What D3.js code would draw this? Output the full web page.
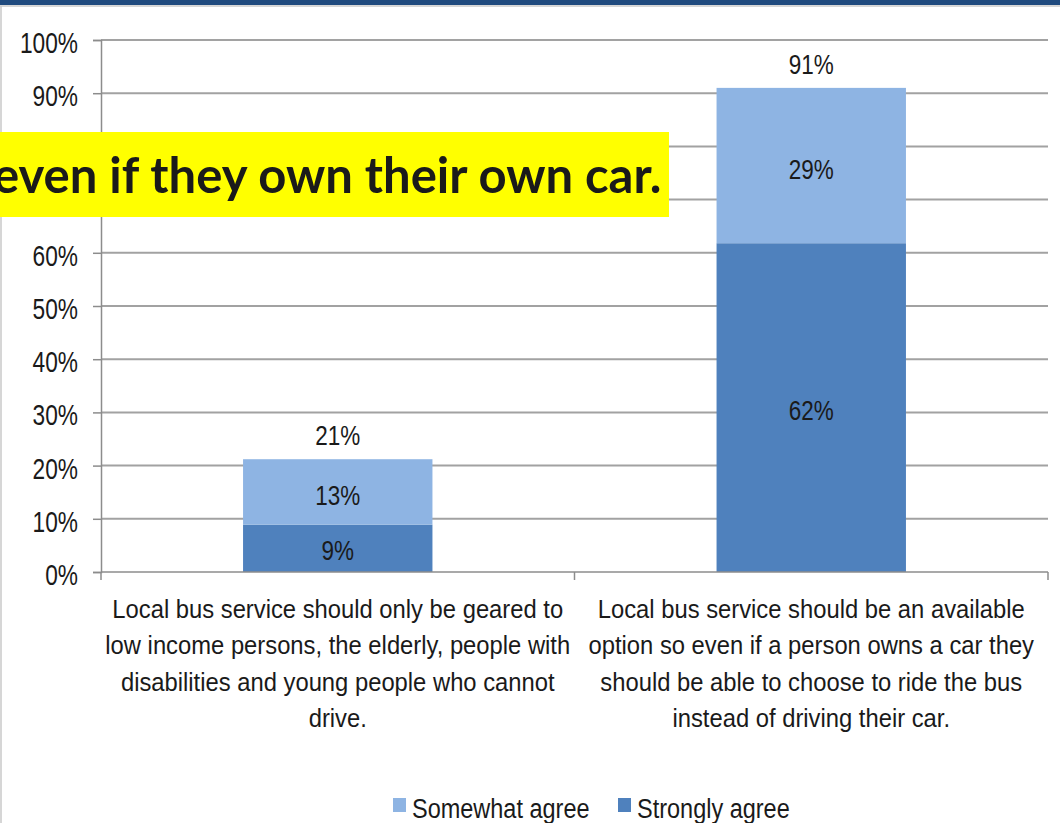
<!DOCTYPE html>
<html>
<head>
<meta charset="utf-8">
<script src="https://cdn.jsdelivr.net/npm/d3@7"></script>
<style>
  body { margin: 0; background: #fff; }
  svg { display: block; }
  text { font-family: "Liberation Sans", Arial, sans-serif; fill: #1a1a1a; }
</style>
</head>
<body>
<script>
// DATA
const categories = [
  "Local bus service should only be geared to low income persons, the elderly, people with disabilities and young people who cannot drive.",
  "Local bus service should be an available option so even if a person owns a car they should be able to choose to ride the bus instead of driving their car."
];
const categoryLines = [
  ["Local bus service should only be geared to", "low income persons, the elderly, people with", "disabilities and young people who cannot", "drive."],
  ["Local bus service should be an available", "option so even if a person owns a car they", "should be able to choose to ride the bus", "instead of driving their car."]
];
const strongly = [8.9, 61.8];
const somewhat = [12.3, 29.2];
const stronglyLabels = [9, 62];
const somewhatLabels = [13, 29];
const totals = [21, 91];
const seriesNames = ["Somewhat agree", "Strongly agree"];
const yTicks = [0, 10, 20, 30, 40, 50, 60, 70, 80, 90, 100];
const banner = "even if they own their own car.";

// CONSTANTS
const WIDTH = 1060, HEIGHT = 823;
const LEFT = 101, RIGHT = 1048, TOP = 40, BOTTOM = 572;
const COLORS = { "Strongly agree": "#4f81bd", "Somewhat agree": "#8eb4e3" };

const svg = d3.select("body").append("svg")
  .attr("width", WIDTH)
  .attr("height", HEIGHT);

// frame: dark header strip + light border
svg.append("rect").attr("x", 0).attr("y", 0).attr("width", WIDTH).attr("height", 5).attr("fill", "#1f4a7e");
svg.append("line").attr("x1", 0).attr("x2", WIDTH).attr("y1", 6).attr("y2", 6).attr("stroke", "#c8c8c8").attr("stroke-width", 1.5);
svg.append("line").attr("x1", 1).attr("x2", 1).attr("y1", 6).attr("y2", HEIGHT).attr("stroke", "#c8c8c8").attr("stroke-width", 1.5);

const x = d3.scaleBand().domain(categories).range([LEFT, RIGHT]).paddingInner(0).paddingOuter(0);
const y = d3.scaleLinear().domain([0, 100]).range([BOTTOM, TOP]);
const barW = x.bandwidth() * 0.4;

// text that is a bit taller than wide, like the source image
function tallText(g, tx, ty, size, sy, str, anchor) {
  return g.append("text")
    .attr("transform", "translate(" + tx + "," + ty + ") scale(1," + sy + ")")
    .attr("text-anchor", anchor || "middle")
    .style("font-size", size + "px")
    .text(str);
}

// GRIDLINES
svg.append("g").selectAll("line")
  .data(yTicks.filter(d => d > 0))
  .enter().append("line")
  .attr("x1", LEFT).attr("x2", RIGHT)
  .attr("y1", d => y(d)).attr("y2", d => y(d))
  .attr("stroke", "#a2a2a2").attr("stroke-width", 2);

// Y-AXIS
const Y_SY = 1.27;
const yAxis = d3.axisLeft(y).tickValues(yTicks).tickFormat(d => d + "%").tickSize(8).tickPadding(15);
const gy = svg.append("g").attr("transform", "translate(" + LEFT + ",0)").call(yAxis);
gy.select(".domain").attr("stroke", "#8c8c8c").attr("stroke-width", 1.5);
gy.selectAll(".tick line").attr("stroke", "#8c8c8c").attr("stroke-width", 1.5);
gy.selectAll(".tick text")
  .style("font-size", "22.7px").attr("fill", "#1a1a1a")
  .attr("dy", null).attr("y", 12.5 / Y_SY)
  .attr("transform", "scale(1," + Y_SY + ")");

// BARS
const stacked = categories.map((c, i) => ({
  cat: c, strong: strongly[i], some: somewhat[i],
  strongLab: stronglyLabels[i], someLab: somewhatLabels[i], total: totals[i]
}));

svg.append("g").selectAll("rect")
  .data(stacked).enter().append("rect")
  .attr("x", d => x(d.cat) + (x.bandwidth() - barW) / 2)
  .attr("y", d => y(d.strong))
  .attr("width", barW)
  .attr("height", d => y(0) - y(d.strong))
  .attr("fill", COLORS["Strongly agree"]);

svg.append("g").selectAll("rect")
  .data(stacked).enter().append("rect")
  .attr("x", d => x(d.cat) + (x.bandwidth() - barW) / 2)
  .attr("y", d => y(d.strong + d.some))
  .attr("width", barW)
  .attr("height", d => y(d.strong) - y(d.strong + d.some))
  .attr("fill", COLORS["Somewhat agree"]);

// X-AXIS
const gx = svg.append("g").attr("transform", "translate(0," + BOTTOM + ")");
gx.append("line").attr("x1", LEFT).attr("x2", RIGHT).attr("stroke", "#8c8c8c").attr("stroke-width", 1.5);
gx.selectAll(".xt").data([LEFT, x(categories[1]), RIGHT]).enter().append("line")
  .attr("x1", d => d).attr("x2", d => d).attr("y1", 0).attr("y2", 8)
  .attr("stroke", "#8c8c8c").attr("stroke-width", 1.5);

// VALUE LABELS
const lab = svg.append("g");
const V_SIZE = 22.5, V_SY = 1.24;
stacked.forEach(d => {
  const cx = x(d.cat) + x.bandwidth() / 2;
  tallText(lab, cx, (y(0) + y(d.strong)) / 2 + 12, V_SIZE, V_SY, d.strongLab + "%");
  tallText(lab, cx, (y(d.strong) + y(d.strong + d.some)) / 2 + 13, V_SIZE, V_SY, d.someLab + "%");
  tallText(lab, cx, y(d.strong + d.some) - 14, V_SIZE, V_SY, d.total + "%");
});

// CATEGORY LABELS
const catG = svg.append("g");
categories.forEach((c, i) => {
  const cx = x(c) + x.bandwidth() / 2;
  categoryLines[i].forEach((ln, j) => {
    tallText(catG, cx, 618 + j * 36.4, 23.8, 1.12, ln);
  });
});

// LEGEND
const legend = svg.append("g").attr("transform", "translate(393,818)");
const lg = legend.selectAll("g").data(seriesNames).enter().append("g")
  .attr("transform", (d, i) => "translate(" + (i * 225) + ",0)");
lg.append("rect").attr("x", 0).attr("y", -20).attr("width", 13).attr("height", 14).attr("fill", d => COLORS[d]);
lg.each(function(d) { tallText(d3.select(this), 19, 0, 23.5, 1.19, d, "start"); });

// YELLOW BANNER
svg.append("rect").attr("x", 0).attr("y", 132).attr("width", 669).attr("height", 85).attr("fill", "#ffff00");
svg.append("text").attr("x", -7).attr("y", 193)
  .style("font-family", "Lato, 'Open Sans', sans-serif").style("font-weight", "bold").style("font-size", "49px")
  .attr("fill", "#000").text(banner);
</script>
</body>
</html>
